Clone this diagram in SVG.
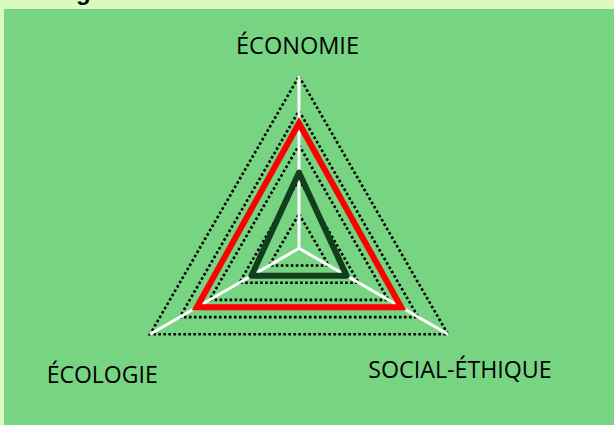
<svg xmlns="http://www.w3.org/2000/svg" width="614" height="425" viewBox="0 0 614 425">
  <style>
    .lbl { font-family: "Open Sans", "Liberation Sans", sans-serif; font-size: 23px; fill: #000000; }
    .grid { fill: none; stroke: #000000; stroke-width: 2.6; stroke-dasharray: 2.6 2.4; }
    .axis { fill: none; stroke: #ffffff; stroke-width: 3; }
  </style>
  <rect x="0" y="0" width="614" height="425" fill="#dcfabf"/>
  <text x="76" y="-0.5" style="font-family: 'Liberation Sans', sans-serif; font-size: 24px; font-weight: bold;" fill="#000000">g</text>
  <rect x="4" y="9" width="610" height="416" fill="#77d483"/>

  <g id="grid">
    <polygon class="grid" points="299,213.9 328.8,265.5 269.2,265.5"/>
    <polygon class="grid" points="299,179.5 358.6,282.7 239.4,282.7"/>
    <polygon class="grid" points="299,145.1 388.4,299.9 209.6,299.9"/>
    <polygon class="grid" points="299,110.7 418.2,317.1 179.8,317.1"/>
    <polygon class="grid" points="299,76.3 448,334.3 150,334.3"/>
  </g>

  <g id="axes">
    <line class="axis" x1="299" y1="248.3" x2="299" y2="76"/>
    <line class="axis" x1="299" y1="248.3" x2="150" y2="334.3"/>
    <line class="axis" x1="299" y1="248.3" x2="448" y2="334.3"/>
  </g>

  <g id="series-red">
    <polygon points="299,123.3 401.2,307.3 196.8,307.3" fill="none" stroke="#ff0000" stroke-width="6" stroke-linejoin="miter"/>
  </g>
  <g id="series-green">
    <polygon points="299,172.5 346.6,275.8 251.4,275.8" fill="none" stroke="#123f1b" stroke-width="6" stroke-linejoin="round"/>
  </g>

  <g id="label-economie">
    <text class="lbl" x="236" y="54.3" textLength="123" lengthAdjust="spacingAndGlyphs">ÉCONOMIE</text>
  </g>
  <g id="label-ecologie">
    <text class="lbl" x="46.7" y="383.3" textLength="111" lengthAdjust="spacingAndGlyphs">ÉCOLOGIE</text>
  </g>
  <g id="label-social">
    <text class="lbl" x="368.3" y="378.3" textLength="183.4" lengthAdjust="spacingAndGlyphs">SOCIAL-ÉTHIQUE</text>
  </g>
</svg>
